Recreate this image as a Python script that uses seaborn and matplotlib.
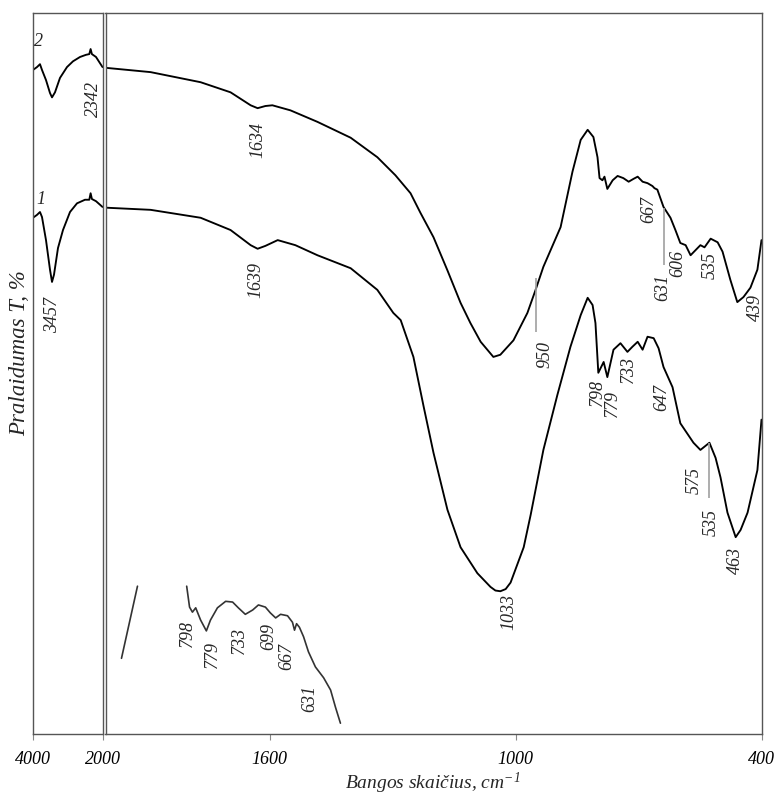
import numpy as np
import pandas as pd
import matplotlib
matplotlib.use("Agg")
import matplotlib.pyplot as plt
import seaborn as sns

# ---------------- data ----------------
# left panel (4000-2000 cm-1)
left_wn = [4000, 3885, 3799, 3741, 3626, 3511, 3453, 3396, 3281, 3137, 2935, 2734,
           2504, 2380, 2342, 2305, 2187, 2000]
left_T1 = [71.6, 72.0, 72.4, 71.7, 68.5, 64.4, 62.7, 63.7, 67.4, 69.9, 72.4, 73.6,
           74.1, 74.1, 75.0, 74.2, 73.9, 73.1]
left_wn2 = [4000, 3885, 3799, 3741, 3626, 3511, 3453, 3367, 3223, 3022, 2849, 2647,
            2475, 2380, 2342, 2305, 2187, 2000]
left_T2 = [92.1, 92.5, 92.9, 92.1, 90.7, 88.9, 88.3, 89.0, 91.0, 92.5, 93.3, 93.9,
           94.2, 94.3, 95.0, 94.3, 93.9, 92.5]

# right panel (2000-400 cm-1), spectrum 1 (lower)
wn1 = [2000, 1890, 1768, 1695, 1646, 1629, 1610, 1580, 1537, 1483, 1402, 1337, 1298,
       1280, 1249, 1224, 1200, 1166, 1134, 1093, 1061, 1049, 1037, 1024, 1012, 980, 963,
       932, 898, 866, 841, 824, 812, 805, 798, 785, 776, 761, 744, 727, 715, 702, 690,
       678, 663, 651, 639, 617, 598, 566, 549, 527, 512, 500, 483, 463, 451, 434, 410, 400]
T1 = [73.0, 72.7, 71.6, 69.9, 67.8, 67.3, 67.7, 68.5, 67.8, 66.4, 64.6, 61.6, 58.4,
      57.4, 52.3, 45.4, 39.0, 31.1, 25.9, 22.3, 20.4, 19.9, 19.8, 20.1, 21.0, 25.9, 30.4,
      39.4, 47.0, 53.7, 58.1, 60.5, 59.5, 57.0, 50.1, 51.6, 49.5, 53.3, 54.2, 53.0, 53.7,
      54.4, 53.3, 55.1, 54.9, 53.5, 50.9, 48.1, 43.1, 40.4, 39.4, 40.4, 38.3, 35.6, 30.7,
      27.3, 28.3, 30.7, 36.6, 43.6]

# spectrum 2 (upper)
wn2 = [2000, 1890, 1768, 1695, 1646, 1629, 1610, 1593, 1549, 1483, 1402, 1337, 1293,
       1256, 1232, 1200, 1166, 1134, 1110, 1085, 1054, 1037, 1005, 971, 951, 932, 890, 861,
       841, 824, 810, 800, 795, 788, 783, 776, 763, 751, 737, 724, 712, 702, 690, 678, 666,
       661, 654, 639, 622, 610, 598, 585, 573, 561, 549, 539, 524, 507, 495, 476, 459,
       444, 427, 410, 400]
T2 = [92.4, 91.8, 90.4, 89.0, 87.2, 86.8, 87.1, 87.2, 86.5, 84.9, 82.7, 80.0, 77.5,
      75.0, 72.3, 68.9, 64.3, 59.8, 57.0, 54.4, 52.3, 52.6, 54.6, 58.4, 61.6, 64.8, 70.3,
      78.0, 82.4, 83.8, 82.8, 80.0, 77.1, 76.8, 77.3, 75.6, 76.8, 77.4, 77.1, 76.6, 77.0,
      77.3, 76.6, 76.4, 76.0, 75.7, 75.5, 73.1, 71.6, 69.9, 68.1, 67.8, 66.4, 67.1, 67.8,
      67.5, 68.7, 68.2, 66.9, 63.0, 59.9, 60.6, 61.9, 64.4, 68.5]

# magnified fragment (inset) drawn in the right panel
inset_a_wn = [1922, 1961]
inset_a_T = [20.5, 10.5]
inset_wn = [1802, 1795, 1788, 1780, 1768, 1754, 1744, 1727, 1707, 1690, 1676, 1659,
            1641, 1627, 1610, 1598, 1585, 1573, 1556, 1544, 1539, 1534, 1527, 1517, 1505,
            1488, 1468, 1451, 1439, 1427]
inset_T = [20.5, 17.6, 16.9, 17.5, 15.8, 14.3, 15.8, 17.5, 18.4, 18.3, 17.5, 16.6,
           17.2, 17.9, 17.6, 16.8, 16.1, 16.6, 16.4, 15.5, 14.4, 15.3, 14.8, 13.5, 11.4,
           9.3, 7.8, 6.1, 3.7, 1.5]

# peak labels: (text, wavenumber position, T position)
right_labels = [("1634", 1629, 82.4), ("1639", 1634, 63.0), ("950", 927, 52.6),
                ("1033", 1015, 16.9), ("798", 800, 47.3), ("779", 763, 45.8),
                ("733", 724, 50.6), ("647", 644, 46.7), ("575", 563, 35.1),
                ("535", 522, 29.4), ("463", 463, 24.1), ("667", 676, 72.8),
                ("631", 641, 61.9), ("606", 605, 65.3), ("535", 524, 65.0),
                ("439", 415, 59.1),
                ("798", 1800, 14.0), ("779", 1739, 11.0), ("733", 1673, 12.9),
                ("699", 1602, 13.5), ("667", 1559, 10.7), ("631", 1502, 4.9)]
left_labels = [("3457", 3424, 58.1), ("2342", 2273, 88.1)]
curve_ids = [("2", 3856, 96.0), ("1", 3770, 74.1)]
marker_wn = [949, 639, 527]
marker_lo = [55.8, 65.0, 32.7]
marker_hi = [63.2, 73.0, 40.4]

left_ticks = [4000, 2000]
right_ticks = [1600, 1000, 400]

# ---------------- style ----------------
sns.set_theme(style="white")
plt.rcParams["font.family"] = ["Liberation Serif", "DejaVu Serif"]
plt.rcParams["font.style"] = "italic"
plt.rcParams["mathtext.fontset"] = "custom"
plt.rcParams["mathtext.rm"] = "Liberation Serif:italic"
plt.rcParams["mathtext.it"] = "Liberation Serif:italic"

W, H = 777, 796
fig = plt.figure(figsize=(W / 100, H / 100), dpi=100)
axL = fig.add_axes([33 / W, 62 / H, 69.5 / W, 721 / H])
axR = fig.add_axes([105.5 / W, 62 / H, 656 / W, 721 / H])

lw = 1.35
dfL1 = pd.DataFrame({"wn": left_wn, "T": left_T1})
dfL2 = pd.DataFrame({"wn": left_wn2, "T": left_T2})
sns.lineplot(data=dfL1, x="wn", y="T", ax=axL, color="black", lw=lw, sort=False, estimator=None)
sns.lineplot(data=dfL2, x="wn", y="T", ax=axL, color="black", lw=lw, sort=False, estimator=None)

df1 = pd.DataFrame({"wn": wn1, "T": T1})
df2 = pd.DataFrame({"wn": wn2, "T": T2})
sns.lineplot(data=df1, x="wn", y="T", ax=axR, color="black", lw=lw, sort=False, estimator=None)
sns.lineplot(data=df2, x="wn", y="T", ax=axR, color="black", lw=lw, sort=False, estimator=None)
sns.lineplot(x=inset_a_wn, y=inset_a_T, ax=axR, color="#333333", lw=1.2, sort=False, estimator=None)
sns.lineplot(x=inset_wn, y=inset_T, ax=axR, color="#333333", lw=1.2, sort=False, estimator=None)

axR.vlines(marker_wn, marker_lo, marker_hi, color="#a0a0a0", lw=1.2)

for ax, xl, ticks in ((axL, (4000, 2000), left_ticks), (axR, (2000, 400), right_ticks)):
    ax.set_xlim(*xl)
    ax.set_ylim(0, 100)
    ax.set_xticks(ticks)
    ax.set_xticklabels([str(t) for t in ticks], fontsize=13, style="italic")
    ax.set_yticks([])
    ax.set_xlabel("")
    ax.set_ylabel("")
    for s in ax.spines.values():
        s.set_visible(True)
        s.set_color("#555555")
        s.set_linewidth(1.0)
    ax.tick_params(axis="x", bottom=True, direction="out", length=4.5, width=0.8,
                   color="#888888", pad=8, labelcolor="black")

for txt, x, y in right_labels:
    axR.text(x, y, txt, rotation=90, ha="center", va="center", fontsize=13, style="italic")
for txt, x, y in left_labels:
    axL.text(x, y, txt, rotation=90, ha="center", va="center", fontsize=13, style="italic")
for txt, x, y in curve_ids:
    axL.text(x, y, txt, ha="center", va="center", fontsize=13, style="italic")

fig.text(20 / W, 1 - 353 / H, "Pralaidumas T, %", rotation=90, ha="center", va="center",
         fontsize=16.5, style="italic")
fig.text(433 / W, 1 - 783 / H, r"Bangos skaičius, cm$^{-1}$", ha="center", va="center",
         fontsize=14, style="italic")

fig.savefig("out.png", dpi=100)
